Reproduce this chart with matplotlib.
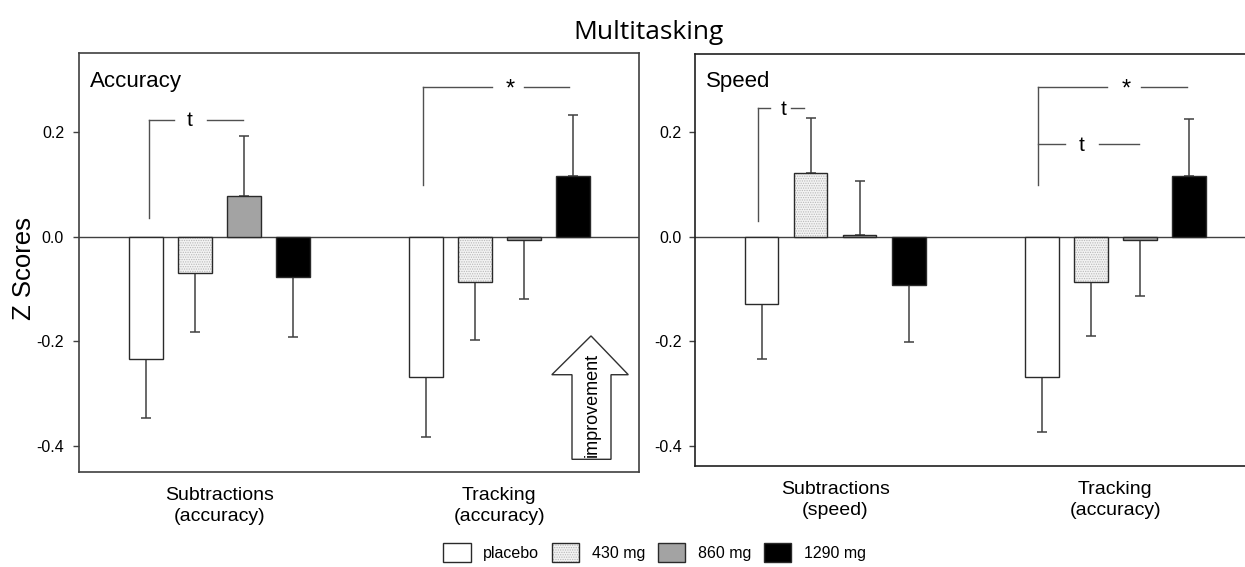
import numpy as np
import matplotlib
matplotlib.use("Agg")
import matplotlib.pyplot as plt
from matplotlib.patches import Polygon

plt.rcParams['font.family'] = ['Liberation Sans', 'DejaVu Sans']
plt.rcParams['hatch.linewidth'] = 0.6

doses = ['placebo', '430 mg', '860 mg', '1290 mg']
acc_tasks = ['Subtractions\n(accuracy)', 'Tracking\n(accuracy)']
spd_tasks = ['Subtractions\n(speed)', 'Tracking\n(accuracy)']

# rows = task, columns = dose
acc_mean = np.array([[-0.235, -0.069, 0.078, -0.077],
                     [-0.268, -0.086, -0.006, 0.116]])
acc_sem = np.array([[0.113, 0.113, 0.115, 0.116],
                    [0.115, 0.112, 0.114, 0.117]])
spd_mean = np.array([[-0.128, 0.123, 0.003, -0.093],
                     [-0.268, -0.086, -0.006, 0.116]])
spd_sem = np.array([[0.106, 0.105, 0.104, 0.109],
                    [0.106, 0.104, 0.108, 0.109]])

face = ['white', '#f3f3f3', '#a3a3a3', 'black']
edge = '#2a2a2a'
offs = (np.arange(4) - 1.5) * 0.175
width = 0.12


def draw_bars(ax, means, sems, tasks):
    x = np.arange(len(tasks))
    handles = []
    for i in range(4):
        xi = x + offs[i]
        m = means[:, i]
        s = sems[:, i]
        lo = np.where(m < 0, s, 0)
        hi = np.where(m >= 0, s, 0)
        ax.errorbar(xi, m, yerr=[lo, hi], fmt='none', ecolor='#404040',
                    elinewidth=1.1, capsize=3.6, capthick=1.1, zorder=1)
        if i == 1:
            b1 = ax.bar(xi, m, width, color=face[i], hatch='.......',
                        edgecolor='#b8b8b8', linewidth=0, zorder=2)
            b2 = ax.bar(xi, m, width, color='none', edgecolor=edge,
                        linewidth=1, zorder=3)
            handles.append((b1, b2))
        else:
            b = ax.bar(xi, m, width, color=face[i], edgecolor=edge,
                       linewidth=1, zorder=2)
            handles.append(b)
    ax.axhline(0, color='#404040', lw=1, zorder=1.5)
    ax.set_xlim(-0.5, 1.5)
    ax.set_yticks([-0.4, -0.2, 0.0, 0.2])
    ax.set_yticklabels(['-0.4', '-0.2', '0.0', '0.2'])
    ax.set_xticks(x)
    ax.set_xticklabels(tasks, fontsize=14, linespacing=1.3)
    ax.tick_params(axis='x', length=0, pad=11)
    ax.tick_params(axis='y', direction='out', length=4, width=1,
                   labelsize=11.5, color='#404040')
    return handles


def bracket(ax, x0, y0, y1, segs, label, lx, ly, size):
    ax.plot([x0, x0], [y0, y1], color='#505050', lw=1)
    for a, b in segs:
        ax.plot([a, b], [y1, y1], color='#505050', lw=1)
    ax.text(lx, ly, label, ha='center', va='center', fontsize=size)


fig = plt.figure(figsize=(12.45, 5.67), dpi=100)
ax1 = fig.add_axes([0.0637, 0.168, 0.4498, 0.739])
ax2 = fig.add_axes([0.5582, 0.178, 0.4503, 0.7266])

handles = draw_bars(ax1, acc_mean, acc_sem, acc_tasks)
draw_bars(ax2, spd_mean, spd_sem, spd_tasks)
ax1.set_ylim(-0.450, 0.352)
ax2.set_ylim(-0.439, 0.350)
ax1.tick_params(axis='y', pad=7)
ax2.tick_params(axis='y', pad=5.5)

for sp in ax1.spines.values():
    sp.set_color('#404040')
    sp.set_linewidth(1.2)
for sp in ax2.spines.values():
    sp.set_color('#202020')
    sp.set_linewidth(1.2)
ax2.spines['right'].set_visible(False)

ax1.text(0.019, 0.931, 'Accuracy', transform=ax1.transAxes,
         fontsize=16, ha='left', va='center')
ax2.text(0.0196, 0.933, 'Speed', transform=ax2.transAxes,
         fontsize=16, ha='left', va='center')

# significance markers
bracket(ax1, -0.25, 0.035, 0.224, [(-0.25, -0.161), (-0.043, 0.086)], 't', -0.105, 0.222, 15)
bracket(ax1, 0.726, 0.099, 0.287, [(0.726, 0.974), (1.0875, 1.25)], '*', 1.038, 0.282, 17)
bracket(ax2, -0.275, 0.030, 0.246, [(-0.275, -0.231), (-0.156, -0.112)], 't', -0.183, 0.244, 15)
bracket(ax2, 0.724, 0.099, 0.287, [(0.724, 0.971), (1.09, 1.254)], '*', 1.039, 0.282, 17)
ax2.plot([0.724, 0.821], [0.177, 0.177], color='#505050', lw=1)
ax2.plot([0.94, 1.083], [0.177, 0.177], color='#505050', lw=1)
ax2.text(0.878, 0.175, 't', ha='center', va='center', fontsize=15)

# improvement arrow
arrow = Polygon([[1.2596, -0.4262], [1.3989, -0.4262], [1.3989, -0.2643],
                 [1.4607, -0.2643], [1.3275, -0.190], [1.1875, -0.2643],
                 [1.2596, -0.2643]], closed=True, facecolor='white',
                edgecolor='#303030', lw=1, zorder=5)
ax1.add_patch(arrow)
ax1.text(1.332, -0.322, 'improvement', rotation=90, ha='center', va='center',
         fontsize=13, zorder=6)

fig.text(0.521, 0.942, 'Multitasking', ha='center', va='center',
         fontsize=19, family=['Open Sans', 'DejaVu Sans'])
fig.text(0.0193, 0.527, 'Z Scores', rotation=90, ha='center', va='center',
         fontsize=18.5)

fig.legend(handles, doses, loc='center', bbox_to_anchor=(0.526, 0.025),
           ncol=4, frameon=False, fontsize=11.5, handlelength=1.7,
           handleheight=1.45, handletextpad=0.8, columnspacing=0.8)

fig.savefig('out.png', dpi=100)
